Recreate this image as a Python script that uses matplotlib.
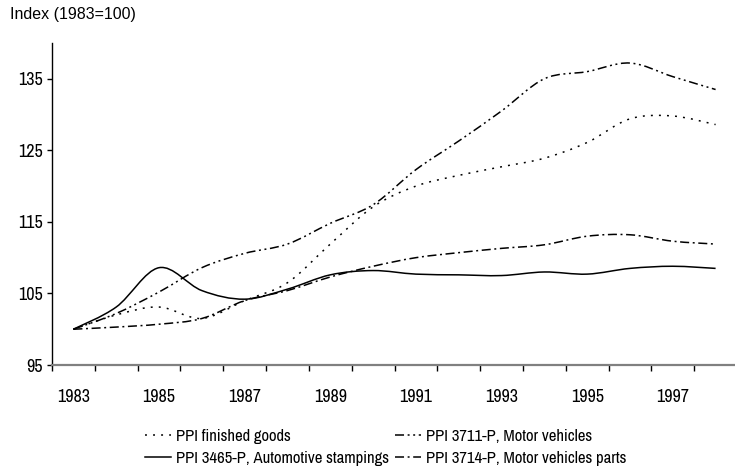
import matplotlib
matplotlib.use("Agg")
import matplotlib.pyplot as plt
from matplotlib.path import Path
from matplotlib.patches import PathPatch
from matplotlib.lines import Line2D

plt.rcParams['font.family'] = ['Archivo Narrow', 'Liberation Sans', 'DejaVu Sans']
plt.rcParams['lines.scale_dashes'] = False

# data (index, 1983=100)
years = list(range(1983, 1999))
finished_goods = [100, 102.0, 103.1, 101.5, 104.0, 106.5, 111.9, 117.1, 120.0, 121.5,
                  122.7, 123.9, 126.1, 129.4, 129.8, 128.6]
stampings = [100, 103.1, 108.6, 105.4, 104.2, 105.6, 107.6, 108.2, 107.7, 107.6,
             107.5, 108.0, 107.7, 108.5, 108.8, 108.5]
motor_vehicles = [100, 102.2, 105.2, 108.6, 110.6, 111.9, 114.8, 117.4, 122.3, 126.3,
                  130.5, 135.0, 136.0, 137.2, 135.3, 133.5]
vehicle_parts = [100, 100.3, 100.7, 101.5, 104.0, 105.4, 107.3, 108.8, 110.0, 110.7,
                 111.3, 111.8, 113.0, 113.2, 112.3, 111.9]

labels = ["PPI finished goods", "PPI 3465-P, Automotive stampings",
          "PPI 3711-P, Motor vehicles", "PPI 3714-P, Motor vehicles parts"]
styles = [(0, (1.4, 4.4)), '-', (0, (6.5, 2.6, 1.4, 2.6, 1.4, 2.6)), (0, (6.5, 2.6, 1.4, 2.6))]


def smooth_path(xs, ys):
    # excel-like smoothed line: bezier through the points
    n = len(xs)
    pts = list(zip(xs, ys))
    verts = [pts[0]]
    codes = [Path.MOVETO]
    for i in range(n - 1):
        p0 = pts[max(i - 1, 0)]
        p1 = pts[i]
        p2 = pts[i + 1]
        p3 = pts[min(i + 2, n - 1)]
        c1 = (p1[0] + (p2[0] - p0[0]) / 6, p1[1] + (p2[1] - p0[1]) / 6)
        c2 = (p2[0] - (p3[0] - p1[0]) / 6, p2[1] - (p3[1] - p1[1]) / 6)
        verts += [c1, c2, p2]
        codes += [Path.CURVE4] * 3
    return Path(verts, codes)


fig = plt.figure(figsize=(7.35, 4.74), dpi=100)
ax = fig.add_axes([52 / 735, 1 - 365 / 474, 685 / 735, 322 / 474])

handles = []
for ys, ls, lab in zip([finished_goods, stampings, motor_vehicles, vehicle_parts], styles, labels):
    patch = PathPatch(smooth_path(years, ys), fill=False, edgecolor='black',
                      linewidth=1.1, linestyle=ls, capstyle='butt')
    ax.add_patch(patch)
    handles.append(Line2D([], [], color='black', linewidth=1.1, linestyle=ls, label=lab))

ax.set_xlim(1982.5, 1998.5)
ax.set_ylim(95, 140)

ax.set_xticks([y - 0.5 for y in years] + [1998.5])
ax.set_xticklabels([])
ax.set_xticks(years[::2], minor=True)
ax.set_xticklabels([str(y) for y in years[::2]], minor=True)
ax.tick_params(axis='x', which='major', length=4, width=1, direction='out', color='black')
ax.tick_params(axis='x', which='minor', length=0, pad=17.5, labelsize=13)
ax.set_yticks([95, 105, 115, 125, 135])
ax.tick_params(axis='y', length=3.6, width=1, direction='out', pad=3, labelsize=13)

for s in ['top', 'right']:
    ax.spines[s].set_visible(False)
ax.spines['bottom'].set_color('#808080')
ax.spines['bottom'].set_linewidth(1.6)
ax.spines['left'].set_linewidth(1.0)

fig.text(10 / 735, 1 - 15 / 474, "Index (1983=100)", fontsize=11.5, va='center', ha='left',
         family='Liberation Sans')

fig.legend(handles=handles, ncol=2, loc='upper left', bbox_to_anchor=(145 / 735, 1 - 429 / 474),
           frameon=False, fontsize=12, handlelength=1.55, handletextpad=0.3,
           columnspacing=0.35, labelspacing=0.4, borderpad=0, borderaxespad=0)

fig.savefig("out.png", dpi=100)
